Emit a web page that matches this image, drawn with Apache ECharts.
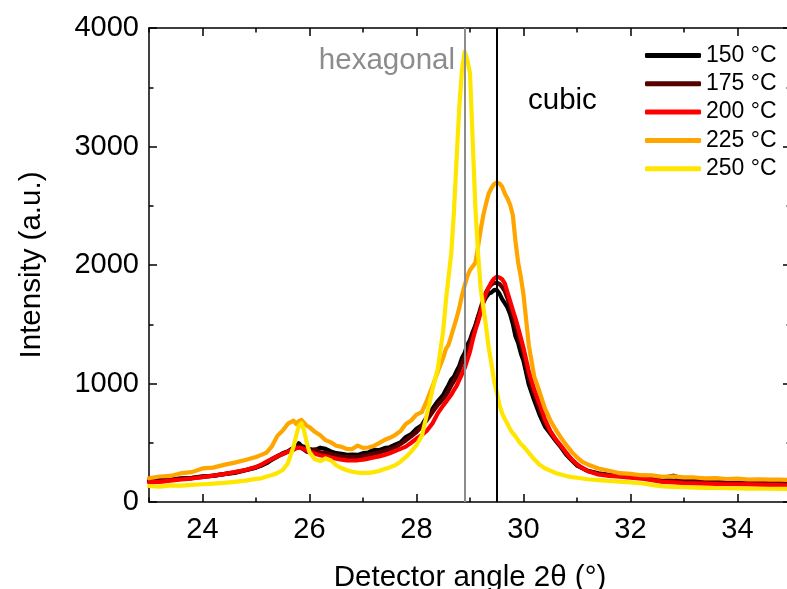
<!DOCTYPE html>
<html><head><meta charset="utf-8">
<script src="https://cdn.jsdelivr.net/npm/echarts@6/dist/echarts.min.js"></script>
<style>html,body{margin:0;padding:0;background:#fff;overflow:hidden}#c{width:787px;height:589px}</style>
</head><body><div id="c"></div>
<script>
// ---- data ----
const angle = [
  23.0,23.2,23.4,23.6,23.8,24.0,24.2,24.4,24.6,24.8,
  25.0,25.1,25.2,25.3,25.4,25.5,25.6,25.7,
  25.75,25.8,25.85,25.9,25.95,
  26.0,26.1,26.2,26.3,26.4,26.5,26.6,26.7,26.8,26.9,27.0,27.1,27.2,27.3,27.4,27.5,27.6,27.7,27.8,27.9,28.0,28.1,28.2,28.3,28.4,28.5,
  28.55,28.6,28.65,28.7,28.75,28.8,28.85,28.9,28.95,29.0,29.05,29.1,29.15,29.2,29.25,29.3,29.35,29.4,29.45,29.5,29.55,29.6,29.65,29.7,29.75,29.8,29.85,29.9,29.95,30.0,
  30.1,30.2,30.3,30.4,30.5,30.6,30.7,30.8,30.9,31.0,31.1,31.2,
  31.4,31.6,31.8,32.0,32.2,32.4,32.6,32.8,33.0,33.2,33.4,33.6,33.8,34.0,34.2,34.4,34.6,34.8,35.0
];
const s150 = [
  180,188,190,200,203,217,220,235,246,268,
  290,308,328,358,383,412,428,458,
  468,495,472,466,448,
  447,438,458,448,427,412,407,398,400,397,412,418,440,437,455,462,483,502,548,572,618,648,722,788,852,903,
  948,988,1035,1058,1105,1148,1215,1258,1325,1368,1435,1488,1565,1612,1685,1728,1758,1768,1788,1790,1758,1712,1678,1642,1585,1505,1398,1342,1255,1192,
  990,858,738,638,578,518,462,398,352,308,287,263,
  243,230,228,216,212,203,202,222,194,194,188,190,184,183,179,180,174,173,170
];
const s175 = [
  175,180,188,195,202,212,222,235,250,268,
  292,310,335,362,388,405,425,440,
  455,470,455,440,425,
  420,445,420,415,405,395,385,380,378,380,388,398,408,418,430,445,460,490,520,555,590,640,695,760,820,870,
  900,940,985,1020,1060,1110,1170,1220,1275,1335,1410,1480,1560,1640,1710,1770,1810,1835,1848,1850,1840,1815,1780,1720,1650,1570,1490,1410,1330,1250,
  1050,900,780,665,585,525,468,410,356,315,285,262,
  238,226,220,212,204,196,188,180,175,172,170,168,165,165,162,160,158,156,155
];
const s200 = [
  165,170,180,190,198,210,222,235,252,270,
  295,315,340,365,385,405,425,445,
  455,458,455,448,435,
  425,408,395,385,375,365,357,352,350,352,358,366,375,385,397,412,430,448,467,500,535,565,605,665,750,815,
  845,875,905,945,980,1030,1080,1130,1200,1270,1367,1450,1520,1600,1690,1760,1810,1855,1885,1900,1895,1880,1845,1770,1695,1620,1550,1470,1385,1300,
  1100,950,830,700,600,530,475,415,360,318,285,262,
  232,220,213,205,198,185,170,165,160,158,155,152,150,150,148,146,145,142,140
];
const s225 = [
  200,215,220,243,252,283,290,313,332,355,
  380,398,418,472,558,603,662,687,
  658,682,692,667,643,
  632,592,563,522,503,475,465,448,447,476,457,460,473,497,523,542,565,598,658,688,738,758,862,978,1102,1218,
  1292,1328,1403,1478,1553,1638,1743,1828,1903,1958,1988,2018,2153,2298,2423,2518,2603,2648,2683,2695,2688,2662,2603,2562,2508,2422,2200,2020,1900,1750,
  1320,1060,930,790,690,612,543,482,423,377,338,317,
  283,264,243,237,226,224,212,217,208,207,200,202,194,197,190,192,188,189,185
];
const s250 = [
  135,130,140,138,145,150,155,162,170,180,
  195,200,215,228,245,270,330,465,
  560,640,665,600,500,
  420,360,345,368,350,310,285,268,255,248,245,246,252,262,278,292,310,340,378,425,480,560,750,950,1130,1450,
  1700,1900,2100,2450,2900,3330,3650,3800,3730,3618,3055,2490,2100,1800,1640,1480,1300,1170,1020,930,820,750,700,660,615,580,555,520,490,470,
  415,360,315,285,265,245,232,220,210,205,198,192,
  185,178,172,165,158,145,132,128,125,122,120,118,116,115,113,112,112,110,110
];
const seriesNames = ['150 °C','175 °C','200 °C','225 °C','250 °C'];
const seriesValues = [s150, s175, s200, s225, s250];
const xMajorTicks = [24,26,28,30,32,34];
const xMinorTicks = [23,25,27,29,31,33,35];
const refLines = [28.9, 29.5];          // hexagonal, cubic reflections
const refLabels = ['hexagonal','cubic'];

// ---- styling ----
const FONT = "'Liberation Sans', Arial, sans-serif";
const colors = ['#000000','#560000','#ff0000','#ffa500','#ffe600'];
const refColors = ['#8c8c8c','#000000'];
const G = {left:149, top:28, bottom:87, width:642, outerBoundsMode:'none', containLabel:false};
const axisLine = {show:true, onZero:false, lineStyle:{color:'#000', width:1.5}};
const tickStyle = {color:'#000', width:1.5};

const chart = echarts.init(document.getElementById('c'), null, {renderer:'canvas'});
const option = {
  animation:false,
  backgroundColor:'#fff',
  textStyle:{fontFamily:FONT},
  grid:[Object.assign({},G), Object.assign({},G)],
  xAxis:[
    {gridIndex:0, type:'value', position:'bottom', min:23, max:35,
     axisLine:axisLine,
     axisTick:{show:true, inside:true, length:8, customValues:xMajorTicks, lineStyle:tickStyle},
     axisLabel:{show:true, customValues:xMajorTicks, fontSize:29, color:'#000', margin:13, fontFamily:FONT},
     splitLine:{show:false},
     name:'Detector angle 2θ (°)', nameLocation:'middle', nameGap:61,
     nameTextStyle:{fontSize:29.5, color:'#000', fontFamily:FONT}},
    {gridIndex:0, type:'value', position:'top', min:23, max:35,
     axisLine:axisLine,
     axisTick:{show:true, inside:true, length:8, customValues:xMajorTicks, lineStyle:tickStyle},
     axisLabel:{show:false}, splitLine:{show:false}},
    {gridIndex:1, type:'value', position:'bottom', min:23, max:35,
     axisLine:{show:false},
     axisTick:{show:true, inside:true, length:4.5, customValues:xMinorTicks, lineStyle:tickStyle},
     axisLabel:{show:false}, splitLine:{show:false}},
    {gridIndex:1, type:'value', position:'top', min:23, max:35,
     axisLine:{show:false},
     axisTick:{show:true, inside:true, length:4.5, customValues:xMinorTicks, lineStyle:tickStyle},
     axisLabel:{show:false}, splitLine:{show:false}}
  ],
  yAxis:[
    {gridIndex:0, type:'value', position:'left', min:0, max:4000, interval:1000,
     axisLine:axisLine,
     axisTick:{show:true, inside:true, length:8, lineStyle:tickStyle},
     minorTick:{show:true, splitNumber:2, length:4.5, lineStyle:tickStyle},
     axisLabel:{show:true, fontSize:29, color:'#000', margin:10, fontFamily:FONT, formatter:v=>String(v)},
     splitLine:{show:false}, minorSplitLine:{show:false},
     name:'Intensity (a.u.)', nameLocation:'middle', nameGap:102,
     nameTextStyle:{fontSize:29.5, color:'#000', fontFamily:FONT}},
    {gridIndex:0, type:'value', position:'right', min:0, max:4000, interval:1000,
     axisLine:axisLine,
     axisTick:{show:true, inside:true, length:8, lineStyle:tickStyle},
     minorTick:{show:true, splitNumber:2, length:4.5, lineStyle:tickStyle},
     axisLabel:{show:false}, splitLine:{show:false}},
    {gridIndex:1, type:'value', show:false, min:0, max:4000}
  ],
  legend:{
    data:seriesNames, orient:'vertical', left:645, top:44, padding:0,
    itemWidth:56, itemHeight:5, itemGap:5.3, icon:'roundRect',
    textStyle:{fontSize:23, lineHeight:23, color:'#000', fontFamily:FONT}
  },
  graphic:[
    {type:'text', x:455, y:61, silent:true,
     style:{text:refLabels[0], fill:refColors[0], fontSize:29.5, fontFamily:FONT, align:'right', verticalAlign:'middle'}},
    {type:'text', x:528, y:101, silent:true,
     style:{text:refLabels[1], fill:refColors[1], fontSize:29.5, fontFamily:FONT, align:'left', verticalAlign:'middle'}}
  ],
  series: seriesNames.map((n,k)=>({
    name:n, type:'line', xAxisIndex:0, yAxisIndex:0,
    data: angle.map((a,i)=>[a, seriesValues[k][i]]),
    showSymbol:false, symbol:'none', color:colors[k],
    lineStyle:{color:colors[k], width:4.2, join:'round', cap:'round'},
    z:2+k*0.01, silent:true
  })).concat([{
    name:'refs', type:'line', xAxisIndex:0, yAxisIndex:0, data:[], silent:true,
    markLine:{silent:true, symbol:['none','none'], animation:false, label:{show:false},
      data: refLines.map((v,i)=>({xAxis:v, lineStyle:{color:refColors[i], width:2, type:'solid'}}))}
  }])
};
chart.setOption(option);
</script>
</body></html>
